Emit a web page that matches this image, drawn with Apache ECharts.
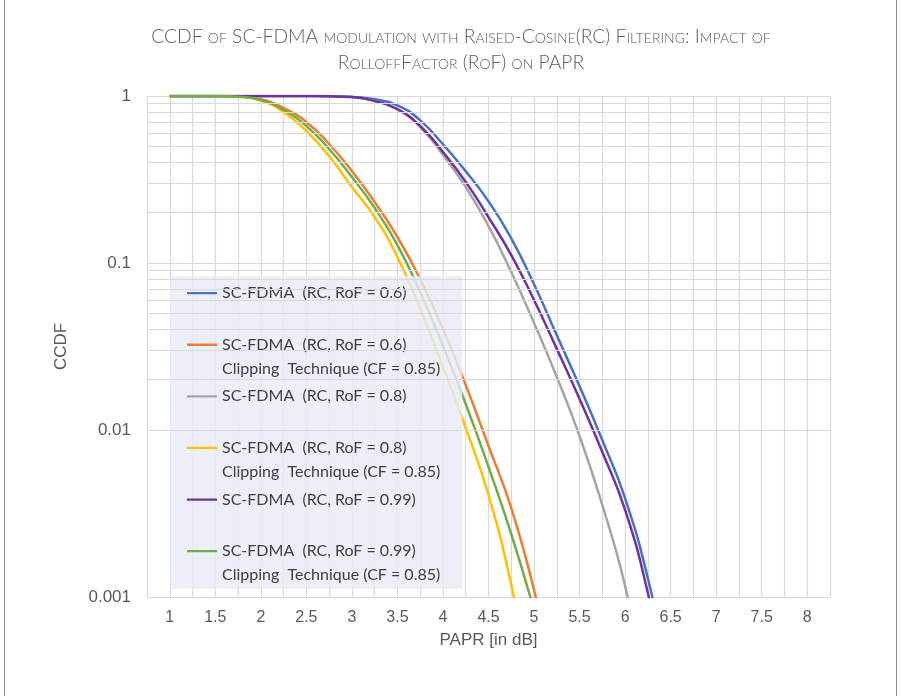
<!DOCTYPE html>
<html>
<head>
<meta charset="utf-8">
<script src="https://cdn.jsdelivr.net/npm/echarts@6/dist/echarts.min.js"></script>
<style>
  html, body { margin: 0; padding: 0; background: #ffffff; }
  #chart { width: 901px; height: 696px; }
</style>
</head>
<body>
<div id="chart"></div>
<script>
// ---- data ----
const paprX = [1, 1.25, 1.5, 1.75, 2, 2.25, 2.5, 2.75, 3, 3.25, 3.5, 3.75, 4, 4.25, 4.5, 4.75, 5, 5.25, 5.5, 5.75, 6, 6.25, 6.5];

const rc06 = [1, 1, 1, 1, 1, 1, 0.999, 0.997, 0.988, 0.955, 0.880, 0.715, 0.514, 0.354, 0.234, 0.1406, 0.0746, 0.0369, 0.01827, 0.00868, 0.0039, 0.001294, 0.000305];
const rc06clip = [1, 1, 0.999, 0.992, 0.9555, 0.8475, 0.6988, 0.516, 0.3555, 0.2319, 0.1431, 0.0802, 0.04025, 0.0186, 0.00802, 0.00341, 0.001101, 0.000277, null, null, null, null, null];
const rc08 = [1, 1, 1, 1, 1, 1, 0.999, 0.996, 0.985, 0.935, 0.828, 0.652, 0.4432, 0.2851, 0.1665, 0.0883, 0.0437, 0.02077, 0.0092, 0.003556, 0.001164, 0.000255, null];
const rc08clip = [1, 1, 0.999, 0.99, 0.94, 0.802, 0.617, 0.437, 0.285, 0.1886, 0.1086, 0.053, 0.02384, 0.01028, 0.00408, 0.00118, 0.000242, null, null, null, null, null, null];
const rc099 = [1, 1, 1, 1, 1, 1, 0.999, 0.996, 0.9863, 0.9335, 0.8357, 0.661, 0.462, 0.306, 0.188, 0.1116, 0.06, 0.0306, 0.01533, 0.00738, 0.00332, 0.001056, 0.000228];
const rc099clip = [1, 1, 0.999, 0.99, 0.9451, 0.8245, 0.6612, 0.4816, 0.3273, 0.2135, 0.1281, 0.067, 0.03184, 0.01431, 0.006005, 0.002383, 0.000836, null, null, null, null, null, null];

const seriesNames = [
  'SC-FDMA  (RC, RoF = 0.6)',
  'SC-FDMA  (RC, RoF = 0.6)\nClipping  Technique (CF = 0.85)',
  'SC-FDMA  (RC, RoF = 0.8)',
  'SC-FDMA  (RC, RoF = 0.8)\nClipping  Technique (CF = 0.85)',
  'SC-FDMA  (RC, RoF = 0.99)',
  'SC-FDMA  (RC, RoF = 0.99)\nClipping  Technique (CF = 0.85)'
];
const seriesValues = [rc06, rc06clip, rc08, rc08clip, rc099, rc099clip];
const seriesColors = ['#4472C4', '#ED7D31', '#A5A5A5', '#FFC000', '#7030A0', '#70AD47'];

const yMinorGrid = [0.002, 0.003, 0.004, 0.005, 0.006, 0.007, 0.008, 0.009,
                    0.02, 0.03, 0.04, 0.05, 0.06, 0.07, 0.08, 0.09,
                    0.2, 0.3, 0.4, 0.5, 0.6, 0.7, 0.8, 0.9];

const titleText = 'CCDF of SC-FDMA modulation with Raised-Cosine(RC) Filtering: Impact of\nRolloffFactor (RoF) on PAPR';
const xAxisName = 'PAPR [in dB]';
const yAxisName = 'CCDF';

// ---- chart ----
const chart = echarts.init(document.getElementById('chart'), null, { renderer: 'canvas' });

const gridColor = '#D9D9D9';
const lineSeries = seriesNames.map((name, i) => ({
  name: name,
  type: 'line',
  data: paprX.map((x, j) => [x, seriesValues[i][j]]),
  smooth: 0.5,
  showSymbol: false,
  symbol: 'none',
  connectNulls: false,
  clip: true,
  z: 3,
  lineStyle: { color: seriesColors[i], width: 2.5 },
  itemStyle: { color: seriesColors[i] },
  emphasis: { disabled: true }
}));

const gridSeries = {
  name: '__grid',
  type: 'line',
  data: [],
  z: 1,
  silent: true,
  markLine: {
    silent: true,
    symbol: ['none', 'none'],
    label: { show: false },
    lineStyle: { color: gridColor, width: 1.2, type: 'solid' },
    emphasis: { disabled: true },
    animation: false,
    data: yMinorGrid.map(v => ({ yAxis: v }))
  }
};

const legendIcon = 'path://M0,0H30V2.3H0Z M0,25.9H0.1V26H0Z';

const option = {
  animation: false,
  backgroundColor: '#ffffff',
  title: {
    text: titleText,
    left: 456,
    top: 19,
    textAlign: 'center',
    textStyle: {
      fontFamily: 'Lato',
      fontStyle: 'small-caps',
      fontWeight: 300,
      fontSize: 19.3,
      lineHeight: 26,
      color: '#595959'
    }
  },
  graphic: [{
    type: 'rect',
    silent: true,
    shape: { x: 4.5, y: -10, width: 892, height: 720 },
    style: { fill: 'none', stroke: '#8a8a8a', lineWidth: 1 }
  }],
  grid: { left: 147, right: 71, top: 96, bottom: 99, containLabel: false },
  legend: {
    orient: 'vertical',
    left: 170,
    top: 276,
    padding: [5, 22, 2, 17],
    itemGap: 3.6,
    itemWidth: 30,
    itemHeight: 26,
    selectedMode: false,
    backgroundColor: 'rgba(232,236,245,0.82)',
    itemStyle: { borderWidth: 0 },
    data: seriesNames.map(n => ({ name: n, icon: legendIcon })),
    formatter: function (name) {
      return name.indexOf('\n') >= 0 ? name : name + '\n ';
    },
    textStyle: {
      fontFamily: 'Lato',
      fontSize: 16,
      lineHeight: 24,
      color: '#404040'
    }
  },
  xAxis: {
    type: 'value',
    min: 0.75,
    max: 8.25,
    interval: 0.25,
    name: xAxisName,
    nameLocation: 'middle',
    nameGap: 35,
    nameTextStyle: { fontFamily: 'Liberation Sans', fontSize: 17, color: '#595959' },
    axisLine: { show: false },
    axisTick: { show: false },
    axisLabel: {
      margin: 13,
      fontFamily: 'Liberation Sans',
      fontSize: 16,
      color: '#595959',
      formatter: function (v) {
        const r = Math.round(v * 4) / 4;
        if (r < 1 || r > 8) return '';
        if (Math.abs(r * 2 - Math.round(r * 2)) > 1e-6) return '';
        return String(r);
      }
    },
    splitLine: { show: true, lineStyle: { color: gridColor, width: 1.2 } }
  },
  yAxis: {
    type: 'log',
    logBase: 10,
    min: 0.001,
    max: 1,
    name: yAxisName,
    nameLocation: 'middle',
    nameGap: 77,
    nameRotate: 90,
    nameTextStyle: { fontFamily: 'Liberation Sans', fontSize: 17, color: '#595959' },
    axisLine: { show: false },
    axisTick: { show: false },
    axisLabel: {
      margin: 16,
      fontFamily: 'Liberation Sans',
      fontSize: 17,
      color: '#595959',
      formatter: function (v) { return String(+Number(v).toPrecision(3)); }
    },
    splitLine: { show: true, lineStyle: { color: gridColor, width: 1.2 } }
  },
  series: [gridSeries].concat(lineSeries)
};

chart.setOption(option);
</script>
</body>
</html>
